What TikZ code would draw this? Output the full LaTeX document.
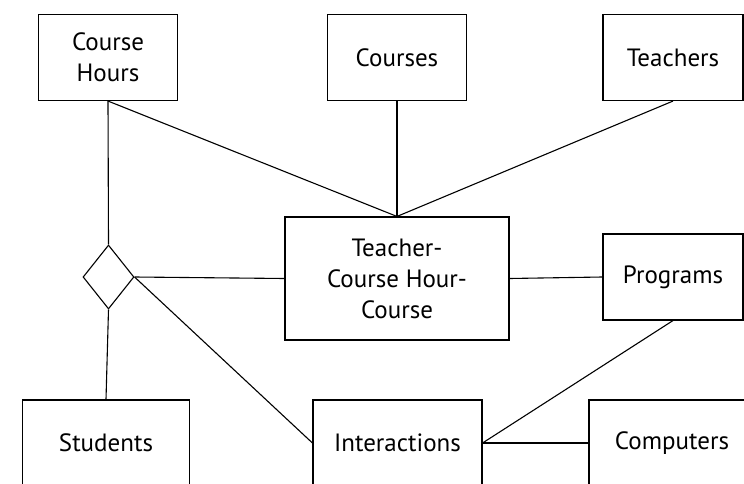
\documentclass[tikz,border=0pt]{standalone}
\usepackage{fontspec}
\setmainfont{PT Sans}
\usetikzlibrary{shapes.geometric}

\tikzset{
    entity/.style={draw, line width=1.1pt, inner sep=0pt, align=center,
        minimum width=139, minimum height=86,
        font=\fontsize{25}{31}\selectfont},
    relation/.style={draw, diamond, line width=1.1pt, inner sep=0pt,
        minimum width=51, minimum height=64},
    link/.style={line width=1.1pt}
}

\begin{document}
\begin{tikzpicture}[x=1pt,y=1pt,yscale=-1,xscale=1]
        \clip (0,0) rectangle (744,484);

        % top row
        \node [entity] (hours) at (108,57.5) {Course\\Hours};
        \node [entity] (courses) at (397,57.5) {Courses};
        \node [entity, minimum width=140] (teachers) at (673,57.5) {Teachers};

        % middle row
        \node [relation] (rel) at (108.5,277) {};
        \node [entity, minimum width=224, minimum height=123] (tch) at (397,278.5) {Teacher-\\Course Hour-\\Course};
        \node [entity, minimum width=140] (programs) at (673,277) {Programs};

        % bottom row
        \node [entity, minimum width=167] (students) at (106,443) {Students};
        \node [entity, minimum width=169] (inter) at (397.5,443) {Interactions};
        \node [entity, minimum width=166] (computers) at (672,443) {Computers};

        % connectors
        \draw [link] (hours.south) -- (rel.north);
        \draw [link] (hours.south) -- (tch.north);
        \draw [link] (courses.south) -- (tch.north);
        \draw [link] (teachers.south) -- (tch.north);
        \draw [link] (rel.east) -- (tch.west);
        \draw [link] (rel.east) -- (inter.west);
        \draw [link] (rel.south) -- (students.north);
        \draw [link] (tch.east) -- (programs.west);
        \draw [link] (inter.east) -- (programs.south);
        \draw [link] (inter.east) -- (computers.west);
    \end{tikzpicture}
\end{document}
